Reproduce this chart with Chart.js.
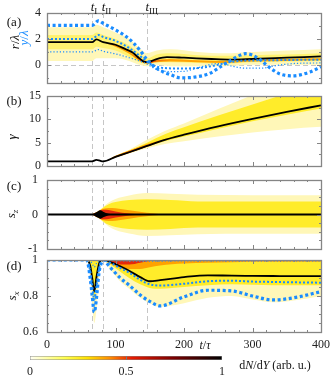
<!DOCTYPE html>
<html>
<head>
<meta charset="utf-8">
<script src="https://cdn.jsdelivr.net/npm/chart.js@4.4.0/dist/chart.umd.min.js"></script>
<style>
  html, body { margin: 0; padding: 0; background: #fff; }
  #wrap { position: relative; width: 335px; height: 381px; overflow: hidden; }
  #wrap canvas { position: absolute; left: 0; }
</style>
</head>
<body>
<div id="wrap">
  <canvas id="pa" width="335" height="91" style="top:0px"></canvas>
  <canvas id="pb" width="335" height="86" style="top:88px"></canvas>
  <canvas id="pc" width="335" height="85" style="top:172px"></canvas>
  <canvas id="pd" width="335" height="104" style="top:252px"></canvas>
  <canvas id="cb" width="335" height="29" style="top:352px"></canvas>
</div>
<script>
// time axis and markers
const xTicks = [0, 100, 200, 300, 400];
const tMarks = [66, 82, 146];            // t_I, t_II, t_III
const tMarkNames = ["I", "II", "III"];

// (a) r/lambda (black) and y/lambda (blue dotted)
const yTicksA = [0, 2, 4];
const tR = [0, 66, 72, 82, 100, 115, 125, 135, 143, 150, 160, 175, 200, 240, 270, 300, 350, 400];
const rA = [1.75, 1.75, 1.96, 1.75, 1.55, 1.2, 0.95, 0.5, 0.22, 0.25, 0.45, 0.6, 0.55, 0.45, 0.4, 0.45, 0.55, 0.65];
const tY1 = [0, 66, 75, 82, 100, 115, 126, 136, 146, 158, 170, 180, 195, 215, 238, 253, 267, 282, 290, 300, 311, 326, 340, 358, 384, 400];
const y1A = [3.05, 3.05, 3.4, 3.2, 2.7, 2.2, 1.7, 1.1, 0.4, -0.2, -0.55, -0.75, -1.0, -0.95, -0.65, -0.15, 0.3, 0.75, 0.86, 0.75, 0.4, -0.25, -0.7, -0.85, -0.55, -0.15];
const tY2 = [0, 66, 75, 82, 100, 120, 140, 150, 165, 190, 220, 245, 265, 290, 320, 360, 400];
const y2A = [2.0, 2.0, 2.3, 2.15, 1.85, 1.3, 0.5, 0.1, -0.2, -0.28, -0.25, -0.05, 0.2, 0.33, 0.35, 0.38, 0.4];
const tY3 = [0, 66, 75, 82, 100, 120, 143, 160, 180, 200, 218, 240, 255, 270, 290, 315, 335, 360, 400];
const y3A = [1.0, 1.0, 1.18, 1.05, 0.85, 0.55, 0.14, -0.35, -0.52, -0.5, -0.26, 0.05, 0.1, -0.1, -0.26, -0.25, -0.05, 0.1, 0.15];
// (a) density bands
const tBandA = [0, 66, 72, 82, 100, 120, 135, 146, 160, 180, 220, 260, 300, 350, 400];
const outerLoA = [0.3, 0.3, 0.5, 0.5, 0.5, 0.3, 0.0, -0.1, 0.0, -0.1, -0.1, -0.1, 0.0, 0.0, 0.0];
const outerHiA = [2.9, 2.9, 3.1, 2.9, 2.5, 2.0, 1.3, 0.9, 1.1, 1.2, 1.0, 0.9, 1.0, 1.1, 1.2];
const midLoA = [1.2, 1.2, 1.4, 1.3, 1.1, 0.6, 0.2, 0.05, 0.2, 0.2, 0.15, 0.1, 0.2, 0.25, 0.3];
const midHiA = [2.3, 2.3, 2.5, 2.3, 2.0, 1.5, 0.9, 0.5, 0.8, 0.9, 0.75, 0.7, 0.75, 0.8, 0.9];
const coreLoA = [1.75, 1.75, 1.96, 1.75, 1.4, 0.85, 0.3, 0.1, 0.2, 0.25, 0.2, 0.15, 0.25, 0.3, 0.35];
const coreHiA = [1.75, 1.75, 1.96, 1.75, 1.6, 1.05, 0.5, 0.3, 0.4, 0.45, 0.35, 0.3, 0.4, 0.45, 0.5];
const redLoA = [1.75, 1.75, 1.96, 1.75, 1.5, 0.95, 0.38, 0.12, 0.28, 0.35, 0.28, 0.22, 0.32, 0.38, 0.42];
const redHiA = [1.75, 1.75, 1.96, 1.75, 1.5, 0.95, 0.42, 0.26, 0.32, 0.35, 0.28, 0.22, 0.32, 0.38, 0.42];

// (b) gamma
const yTicksB = [0, 5, 10, 15];
const tG = [0, 66, 72, 78, 82, 100, 120, 146, 172, 200, 250, 300, 350, 400];
const gB = [1, 1, 1.3, 1.1, 1.0, 1.95, 2.95, 4.3, 5.6, 6.7, 8.5, 10.1, 11.6, 13.0];
const tBandB = [0, 82, 100, 120, 146, 172, 200, 250, 300, 350, 400];
const outerLoB = [1, 1, 1.85, 2.7, 3.8, 4.7, 5.3, 6.3, 7.2, 7.9, 8.4];
const outerHiB = [1, 1, 2.2, 3.5, 5.6, 7.5, 9.1, 12.2, 15.2, 18, 21];
const midLoB = [1, 1, 1.9, 2.85, 4.1, 5.3, 6.3, 8.0, 9.6, 11.0, 12.3];
const midHiB = [1, 1, 2.1, 3.3, 5.0, 6.8, 8.3, 10.8, 13.2, 15.5, 17.5];
const coreLoB = [1, 1, 1.8, 2.8, 4.1, 5.5, 6.7, 8.5, 10.1, 11.6, 13.0];
const coreHiB = [1, 1, 2.2, 3.3, 4.7, 5.8, 6.7, 8.5, 10.1, 11.6, 13.0];
const redLoB = [1, 1, 1.85, 2.85, 4.2, 5.6, 6.7, 8.5, 10.1, 11.6, 13.0];
const redHiB = [1, 1, 2.1, 3.15, 4.45, 5.6, 6.7, 8.5, 10.1, 11.6, 13.0];

// (c) s_z
const yTicksC = [-1, 0, 1];
const tS = [0, 400];
const szC = [0, 0];
const tBandC = [0, 64, 66, 70, 74, 78, 82, 90, 100, 120, 146, 180, 220, 300, 400];
const outerWC = [0, 0, 0.02, 0.05, 0.1, 0.15, 0.22, 0.35, 0.45, 0.55, 0.62, 0.6, 0.57, 0.56, 0.56];
const midWC = [0, 0, 0.01, 0.04, 0.08, 0.13, 0.2, 0.3, 0.36, 0.42, 0.44, 0.42, 0.38, 0.38, 0.38];
const coreWC = [0, 0, 0.01, 0.04, 0.08, 0.13, 0.17, 0.19, 0.18, 0.12, 0.05, 0, 0, 0, 0];
const redWC = [0, 0, 0.01, 0.04, 0.08, 0.12, 0.14, 0.13, 0.09, 0.03, 0, 0, 0, 0, 0];
const blackWC = [0, 0, 0, 0.04, 0.09, 0.12, 0.08, 0.02, 0, 0, 0, 0, 0, 0, 0];

// (d) s_x
const yTicksD = [0.6, 0.8, 1];
const tD = [0, 58, 63, 66, 69, 72, 76, 80, 82, 92, 107, 120, 136, 150, 165, 200, 235, 270, 300, 330, 360, 400];
const sxD = [1, 1, 0.97, 0.9, 0.825, 0.9, 0.98, 1, 1, 0.99, 0.965, 0.94, 0.905, 0.882, 0.888, 0.905, 0.915, 0.913, 0.912, 0.911, 0.91, 0.91];
const thickD = [1, 1, 0.9, 0.8, 0.71, 0.78, 0.93, 0.99, 1, 0.96, 0.9, 0.86, 0.806, 0.77, 0.745, 0.795, 0.832, 0.828, 0.8, 0.778, 0.79, 0.824];
const medD = [1, 1, 0.94, 0.86, 0.78, 0.85, 0.95, 0.995, 1, 0.985, 0.955, 0.93, 0.89, 0.865, 0.858, 0.868, 0.882, 0.885, 0.88, 0.878, 0.876, 0.874];
const thinD = [1, 1, 0.995, 0.98, 0.96, 0.98, 0.995, 1, 1, 0.998, 0.996, 0.995, 0.994, 0.993, 0.994, 0.995, 0.995, 0.995, 0.995, 0.995, 0.995, 0.995];
const outerLoD = [1, 1, 0.9, 0.76, 0.65, 0.72, 0.9, 0.99, 1, 0.95, 0.88, 0.84, 0.79, 0.76, 0.74, 0.76, 0.79, 0.8, 0.78, 0.765, 0.775, 0.8];
const midLoD = [1, 1, 0.95, 0.86, 0.78, 0.85, 0.96, 1, 1, 0.975, 0.935, 0.9, 0.865, 0.845, 0.84, 0.85, 0.86, 0.865, 0.862, 0.86, 0.86, 0.86];
const coreLoD = [1, 1, 1, 1, 1, 1, 1, 1, 1, 0.98, 0.955, 0.95, 0.95, 0.96, 0.97, 0.98, 0.985, 0.988, 0.99, 0.99, 0.99, 0.99];
const redLoD = [1, 1, 1, 1, 1, 1, 1, 1, 1, 0.99, 0.975, 0.975, 0.985, 0.995, 1, 1, 1, 1, 1, 1, 1, 1];

// colour bar
const cbTicks = [0, 0.5, 1];

// styles
const serif = '"Liberation Serif", "DejaVu Serif", serif';
const BLUE = "#1a8cff";
const C_OUT = "#fff7b8", C_MID = "#ffec2a", C_CORE = "#ffa200", C_RED = "#e42a0c";

const pts = (ts, vs) => ts.map((t, i) => ({ x: t, y: vs[i] }));
const neg = vs => vs.map(v => -v);

function lineDs(ts, vs, color, width, dash, order) {
  return { data: pts(ts, vs), borderColor: color, borderWidth: width, borderDash: dash || [],
    borderCapStyle: "butt", fill: false, order };
}
function addBand(list, ts, lo, hi, color, order) {
  const base = list.length;
  list.push({ data: pts(ts, lo), borderColor: "transparent", borderWidth: 0, fill: false, order });
  list.push({ data: pts(ts, hi), borderColor: "transparent", borderWidth: 0, fill: base,
    backgroundColor: color, order });
}
function addEdgeBand(list, ts, lo, color, order) {
  list.push({ data: pts(ts, lo), borderColor: "transparent", borderWidth: 0, fill: { value: 1 },
    backgroundColor: color, order });
}

// rich text (italic / subscript pieces)
function fontOf(p, size) {
  return (p.i ? "italic " : "") + (p.sub ? Math.round(size * 0.72) : size) + "px " + serif;
}
function drawRich(ctx, parts, cx, cy, size, color, rotated) {
  ctx.save();
  ctx.translate(cx, cy);
  if (rotated) ctx.rotate(-Math.PI / 2);
  let w = 0;
  parts.forEach(p => { ctx.font = fontOf(p, size); w += ctx.measureText(p.t).width; });
  let x = -w / 2;
  ctx.fillStyle = color; ctx.textBaseline = "middle"; ctx.textAlign = "left";
  parts.forEach(p => {
    ctx.font = fontOf(p, size);
    ctx.fillText(p.t, x, p.sub ? size * 0.3 : 0);
    x += ctx.measureText(p.t).width;
  });
  ctx.restore();
}

// frame, inward ticks and dashed marker lines
function framePlugin(yMajor, yMinor, zero) {
  return {
    id: "frame",
    beforeDatasetsDraw(chart) {
      const { ctx, chartArea: a, scales: { x, y } } = chart;
      ctx.save();
      ctx.strokeStyle = "#c6c6c6"; ctx.lineWidth = 1; ctx.setLineDash([5, 3]);
      tMarks.forEach(t => {
        const px = Math.round(x.getPixelForValue(t)) + 0.5;
        ctx.beginPath(); ctx.moveTo(px, a.top); ctx.lineTo(px, a.bottom); ctx.stroke();
      });
      if (zero) {
        const py = Math.round(y.getPixelForValue(0)) + 0.5;
        ctx.beginPath(); ctx.moveTo(a.left, py); ctx.lineTo(a.right, py); ctx.stroke();
      }
      ctx.restore();
    },
    afterDatasetsDraw(chart) {
      const { ctx, chartArea: a, scales: { x, y } } = chart;
      ctx.save();
      ctx.strokeStyle = "#858585"; ctx.lineWidth = 1;
      ctx.beginPath();
      for (let t = 0; t <= 400; t += 20) {
        const px = Math.round(x.getPixelForValue(t)) + 0.5, len = t % 100 === 0 ? 4 : 2;
        ctx.moveTo(px, a.top); ctx.lineTo(px, a.top + len);
        ctx.moveTo(px, a.bottom); ctx.lineTo(px, a.bottom - len);
      }
      const n0 = Math.ceil(y.min / yMinor - 1e-6), n1 = Math.floor(y.max / yMinor + 1e-6);
      for (let k = n0; k <= n1; k++) {
        const v = k * yMinor;
        const len = yMajor.some(m => Math.abs(m - v) < 1e-6) ? 4 : 2;
        const py = Math.round(y.getPixelForValue(v)) + 0.5;
        ctx.moveTo(a.left, py); ctx.lineTo(a.left + len, py);
        ctx.moveTo(a.right, py); ctx.lineTo(a.right - len, py);
      }
      ctx.stroke();
      ctx.lineWidth = 1.3;
      ctx.strokeRect(Math.round(a.left) + 0.5, Math.round(a.top) + 0.5,
        Math.round(a.right - a.left), Math.round(a.bottom - a.top));
      ctx.restore();
    }
  };
}

// labels are offset with an invisible tick length, so no extra vertical padding is added
function yScale(min, max, ticks, gap) {
  return {
    type: "linear", min, max,
    afterBuildTicks: s => { s.ticks = ticks.map(v => ({ value: v })); },
    afterFit: s => { s.width = 47; },
    grid: { display: false, drawTicks: true, tickLength: gap }, border: { display: false },
    ticks: { font: { family: serif, size: 12 }, color: "#222", padding: 0, callback: v => String(v) }
  };
}
const xHidden = { type: "linear", min: 0, max: 400, display: false };

function makePanel(id, datasets, y, padding, plugins, xScale) {
  return new Chart(document.getElementById(id), {
    type: "line",
    data: { datasets },
    options: {
      responsive: false, animation: false, devicePixelRatio: 1,
      layout: { padding },
      elements: { point: { radius: 0 }, line: { cubicInterpolationMode: "monotone" } },
      plugins: { legend: { display: false }, tooltip: { enabled: false } },
      scales: { x: xScale || xHidden, y }
    },
    plugins
  });
}

// ---- (a)
const dsA = [
  lineDs(tY1, y1A, BLUE, 3.2, [3, 2.6], 1),
  lineDs(tY2, y2A, BLUE, 2, [2, 2], 1),
  lineDs(tY3, y3A, BLUE, 1.2, [1.2, 2], 1),
  lineDs(tR, rA, "#000", 1.8, [], 2)
];
addBand(dsA, tBandA, outerLoA, outerHiA, C_OUT, 10);
addBand(dsA, tBandA, midLoA, midHiA, "#fff270", 9);
addBand(dsA, tBandA, coreLoA, coreHiA, C_CORE, 8);
addBand(dsA, tBandA, redLoA, redHiA, C_RED, 7);
makePanel("pa", dsA, yScale(-1.4, 4, yTicksA, 6), { top: 13, bottom: 8, left: 0, right: 14 }, [
  framePlugin(yTicksA, 1, true),
  { id: "decoA", afterDraw(chart) {
      const { ctx, scales: { x } } = chart;
      drawRich(ctx, [{ t: "(a)" }], 14, 23, 13, "#111", false);
      drawRich(ctx, [{ t: "r", i: 1 }, { t: "/" }, { t: "λ", i: 1 }], 16, 42, 13, "#111", true);
      drawRich(ctx, [{ t: "y", i: 1 }, { t: "/" }, { t: "λ", i: 1 }], 25, 38, 13, BLUE, true);
      tMarks.forEach((t, k) => {
        const px = x.getPixelForValue(t);
        const parts = [{ t: "t", i: 1 }, { t: tMarkNames[k], sub: 1 }];
        ctx.save(); ctx.font = fontOf(parts[0], 13);
        const w0 = ctx.measureText("t").width; ctx.font = fontOf(parts[1], 13);
        const w1 = ctx.measureText(tMarkNames[k]).width; ctx.restore();
        drawRich(ctx, parts, px - 1.5 + (w0 + w1) / 2, 8, 13, "#111", false);
      });
  } }
]);

// ---- (b)
const dsB = [lineDs(tG, gB, "#000", 1.8, [], 2)];
addBand(dsB, tBandB, outerLoB, outerHiB, C_OUT, 10);
addBand(dsB, tBandB, midLoB, midHiB, C_MID, 9);
addBand(dsB, tBandB, coreLoB, coreHiB, C_CORE, 8);
addBand(dsB, tBandB, redLoB, redHiB, C_RED, 7);
makePanel("pb", dsB, yScale(0, 15, yTicksB, 6), { top: 8, bottom: 8, left: 0, right: 14 }, [
  framePlugin(yTicksB, 2.5, false),
  { id: "decoB", afterDraw(chart) {
      const ctx = chart.ctx;
      drawRich(ctx, [{ t: "(b)" }], 14, 14, 13, "#111", false);
      drawRich(ctx, [{ t: "γ", i: 1 }], 13, 49, 13, "#111", true);
  } }
]);

// ---- (c)
const dsC = [lineDs(tS, szC, "#000", 1.8, [], 2)];
addBand(dsC, tBandC, neg(outerWC), outerWC, C_OUT, 10);
addBand(dsC, tBandC, neg(midWC), midWC, C_MID, 9);
addBand(dsC, tBandC, neg(coreWC), coreWC, C_CORE, 8);
addBand(dsC, tBandC, neg(redWC), redWC, C_RED, 7);
addBand(dsC, tBandC, neg(blackWC), blackWC, "#000", 6);
makePanel("pc", dsC, yScale(-1, 1, yTicksC, 9), { top: 8, bottom: 8, left: 0, right: 14 }, [
  framePlugin(yTicksC, 0.25, false),
  { id: "decoC", afterDraw(chart) {
      const ctx = chart.ctx;
      drawRich(ctx, [{ t: "(c)" }], 14, 15, 13, "#111", false);
      drawRich(ctx, [{ t: "s", i: 1 }, { t: "z", i: 1, sub: 1 }], 12, 42, 13, "#111", true);
  } }
]);

// ---- (d)
const dsD = [
  lineDs(tD, thickD, BLUE, 3.2, [3, 2.6], 1),
  lineDs(tD, medD, BLUE, 2, [2, 2], 1),
  lineDs(tD, thinD, BLUE, 1.2, [1.2, 2], 1),
  lineDs(tD, sxD, "#000", 1.8, [], 2)
];
addEdgeBand(dsD, tD, outerLoD, C_OUT, 10);
addEdgeBand(dsD, tD, midLoD, C_MID, 9);
addEdgeBand(dsD, tD, coreLoD, C_CORE, 8);
addEdgeBand(dsD, tD, redLoD, C_RED, 7);
const xShown = {
  type: "linear", min: 0, max: 400,
  afterBuildTicks: s => { s.ticks = xTicks.map(v => ({ value: v })); },
  afterFit: s => { s.height = 24; },
  grid: { display: false, drawTicks: true, tickLength: 6 }, border: { display: false },
  ticks: { font: { family: serif, size: 12 }, color: "#222", padding: 0, maxRotation: 0, autoSkip: false,
    callback: v => String(v) }
};
makePanel("pd", dsD, yScale(0.6, 1, yTicksD, 9), { top: 8, bottom: 0, left: 0, right: 14 }, [
  framePlugin(yTicksD, 0.05, false),
  { id: "decoD", afterDraw(chart) {
      const ctx = chart.ctx;
      drawRich(ctx, [{ t: "(d)" }], 14, 15, 13, "#111", false);
      drawRich(ctx, [{ t: "s", i: 1 }, { t: "x", i: 1, sub: 1 }], 13, 44, 13, "#111", true);
      drawRich(ctx, [{ t: "t", i: 1 }, { t: "/" }, { t: "τ", i: 1 }], 205, 94, 12, "#111", false);
  } }
], xShown);

// ---- colour bar
const cbStops = [[0, "#fffff4"], [0.18, "#ffff50"], [0.3, "#ffe000"], [0.42, "#ff8a00"],
  [0.53, "#e81a00"], [0.75, "#7a0000"], [1, "#000000"]];
new Chart(document.getElementById("cb"), {
  type: "bar",
  data: {
    labels: ["dN/dY"],
    datasets: [{
      data: [[0, 1]],
      backgroundColor: c => {
        const a = c.chart.chartArea;
        if (!a) return "#fff";
        const g = c.chart.ctx.createLinearGradient(a.left, 0, a.right, 0);
        cbStops.forEach(s => g.addColorStop(s[0], s[1]));
        return g;
      },
      borderColor: "#888", borderWidth: 0.8, borderSkipped: false,
      barPercentage: 1, categoryPercentage: 1
    }]
  },
  options: {
    indexAxis: "y", responsive: false, animation: false, devicePixelRatio: 1,
    layout: { padding: { left: 30, right: 113, top: 4, bottom: 0 } },
    plugins: { legend: { display: false }, tooltip: { enabled: false } },
    scales: {
      x: {
        type: "linear", min: 0, max: 1,
        afterBuildTicks: s => { s.ticks = cbTicks.map(v => ({ value: v })); },
        afterFit: s => { s.height = 21; },
        grid: { display: false, drawTicks: true, tickLength: 5 }, border: { display: false },
        ticks: { font: { family: serif, size: 12 }, color: "#222", padding: 0, maxRotation: 0,
          callback: v => String(v) }
      },
      y: { display: false }
    }
  },
  plugins: [{ id: "cbDeco", afterDraw(chart) {
    const { ctx, chartArea: a, scales: { x } } = chart;
    const px = Math.round(x.getPixelForValue(0.5)) + 0.5;
    ctx.save(); ctx.strokeStyle = "#777"; ctx.lineWidth = 1;
    ctx.beginPath(); ctx.moveTo(px, a.top); ctx.lineTo(px, a.bottom); ctx.stroke(); ctx.restore();
    drawRich(ctx, [{ t: "d" }, { t: "N", i: 1 }, { t: "/d" }, { t: "Y", i: 1 }, { t: " (arb. u.)" }],
      275, 14, 12, "#111", false);
  } }]
});
</script>
</body>
</html>
